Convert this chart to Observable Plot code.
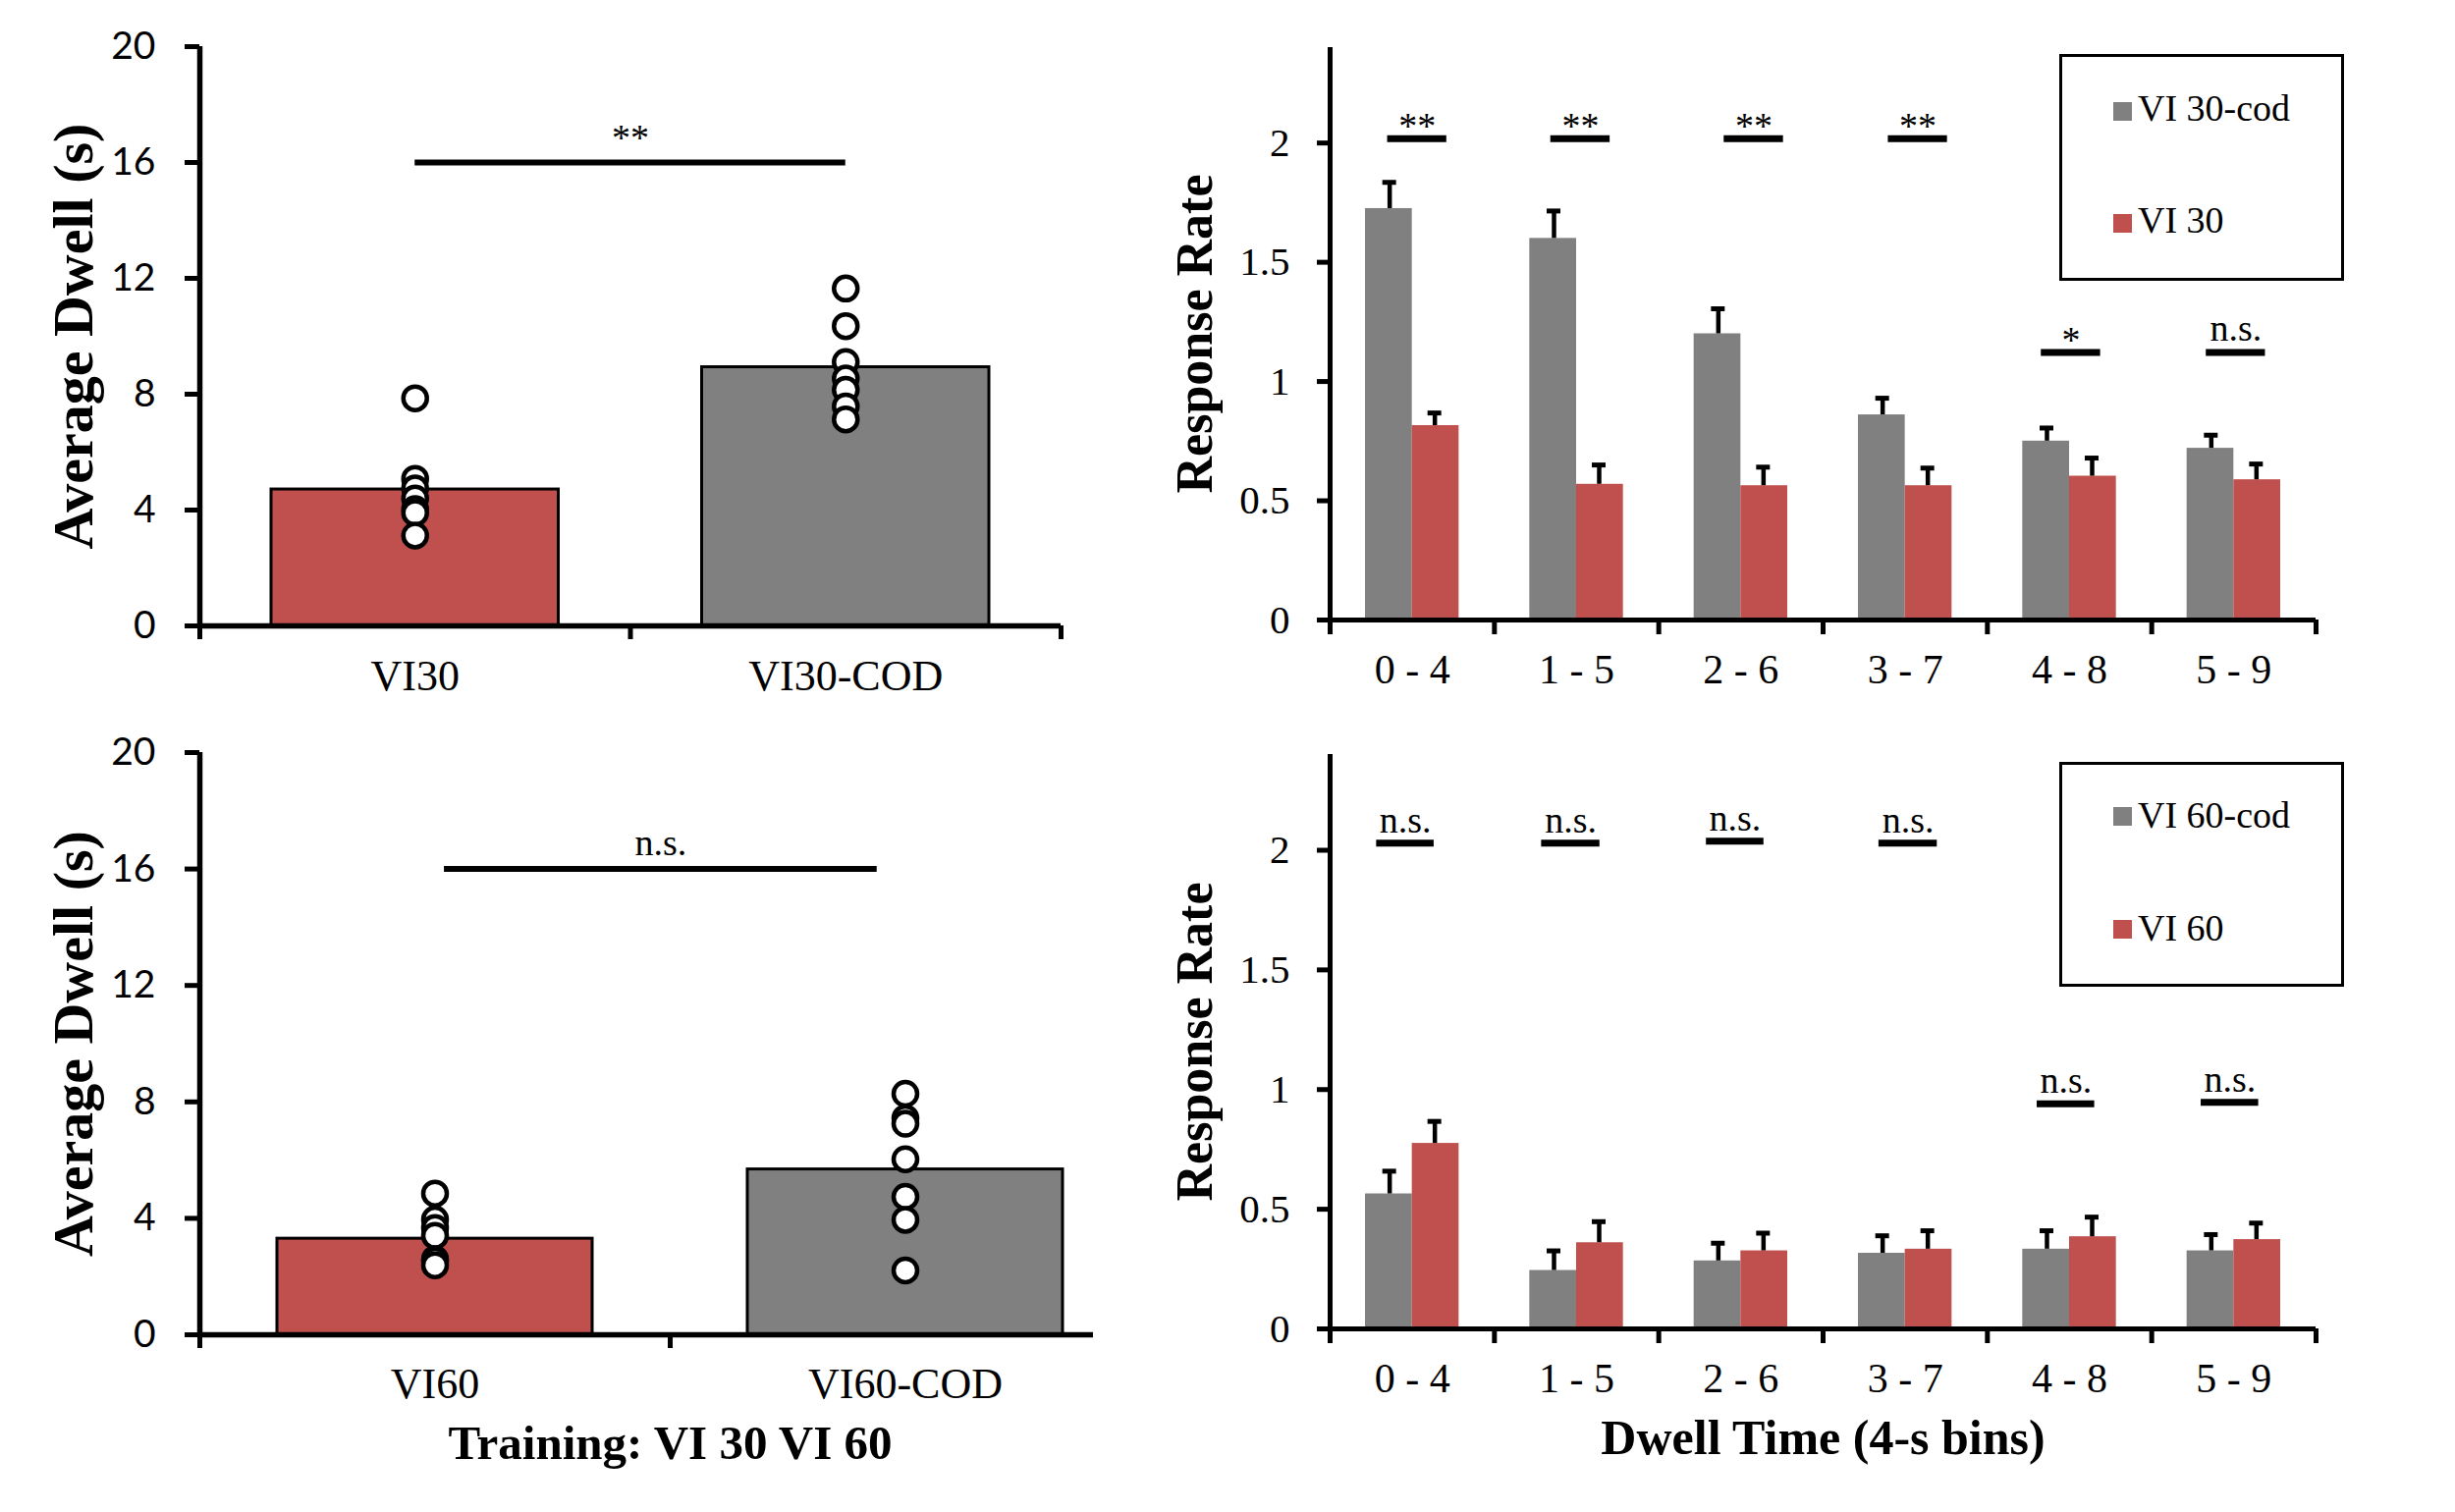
<!DOCTYPE html>
<html><head><meta charset="utf-8">
<script src="https://cdn.jsdelivr.net/npm/d3@7"></script>
<script src="https://cdn.jsdelivr.net/npm/@observablehq/plot@0.6"></script>
<style>
html,body{margin:0;padding:0;background:#fff;}
#root{position:relative;width:2500px;height:1540px;background:#fff;overflow:hidden;}
.panel{position:absolute;}
.panel svg{display:block;}
.legend-box{position:absolute;border:3px solid #000;box-sizing:border-box;background:#fff;}
.sw{position:absolute;width:19px;height:19px;}
.lt{position:absolute;font-family:"Liberation Serif","Times New Roman",serif;font-size:38px;line-height:38px;white-space:nowrap;color:#000;}
</style></head><body><div id="root"></div>
<script>
// ---------------- data ----------------
const RED = "#C0504D", GRAY = "#808080";
const SERIF = '"Liberation Serif", "Times New Roman", serif';
const SANS = 'Lato, "Open Sans", sans-serif';

const dwellTicks = [0, 4, 8, 12, 16, 20];
const rateTicks = [0, 0.5, 1, 1.5, 2];

// top-left
const topCats = ["VI30", "VI30-COD"];
const topMeans = [4.71, 8.93];
const topVI30 = [7.86, 5.08, 4.75, 4.4, 4.03, 3.9, 3.12];
const topVI30COD = [11.65, 10.35, 9.11, 8.54, 8.15, 7.58, 7.13];
const topSig = {label: "**", x1: 0.5, x2: 1.5, y: 16};

// bottom-left
const botCats = ["VI60", "VI60-COD"];
const botMeans = [3.3, 5.68];
const botVI60 = [4.85, 3.96, 3.67, 3.4, 2.6, 2.55, 2.39];
const botVI60COD = [8.28, 7.44, 7.25, 6.03, 4.74, 3.95, 2.21];
const botSig = {label: "n.s.", x1: 0.52, x2: 1.44, y: 16};

// right panels
const bins = ["0 - 4", "1 - 5", "2 - 6", "3 - 7", "4 - 8", "5 - 9"];
const vi30cod = [1.725, 1.60, 1.20, 0.86, 0.75, 0.72];
const vi30codSem = [0.11, 0.115, 0.105, 0.07, 0.055, 0.055];
const vi30 = [0.815, 0.569, 0.563, 0.563, 0.603, 0.588];
const vi30Sem = [0.053, 0.081, 0.078, 0.074, 0.076, 0.066];
const sig30Labels = ["**", "**", "**", "**", "*", "n.s."];
const sig30Y = [2.018, 2.018, 2.018, 2.018, 1.122, 1.122];
const sig30X1 = [0.35, 1.343, 2.398, 3.397, 4.328, 5.332];
const sig30X2 = [0.71, 1.704, 2.759, 3.757, 4.689, 5.692];

const vi60cod = [0.564, 0.244, 0.284, 0.316, 0.333, 0.326];
const vi60codSem = [0.095, 0.082, 0.074, 0.073, 0.077, 0.068];
const vi60 = [0.775, 0.36, 0.326, 0.333, 0.385, 0.373];
const vi60Sem = [0.092, 0.088, 0.074, 0.077, 0.082, 0.069];
const sig60Labels = ["n.s.", "n.s.", "n.s.", "n.s.", "n.s.", "n.s."];
const sig60Y = [2.03, 2.03, 2.038, 2.03, 0.941, 0.947];
const sig60X1 = [0.283, 1.287, 2.29, 3.34, 4.303, 5.301];
const sig60X2 = [0.633, 1.642, 2.64, 3.695, 4.653, 5.651];

const legend30 = [{label: "VI 30-cod", color: GRAY}, {label: "VI 30", color: RED}];
const legend60 = [{label: "VI 60-cod", color: GRAY}, {label: "VI 60", color: RED}];

// ---------------- panels ----------------
function dwellPanel(cfg) {
  const cats = cfg.cats;
  const bars = cats.map((c, i) => ({i, cat: c, mean: cfg.means[i], fill: [RED, GRAY][i]}));
  const dots = cfg.points.flatMap((arr, i) => arr.map(v => ({i, v})));
  const marks = [
    Plot.rect(bars, {x1: d => d.i, x2: d => d.i + 1, y1: 0, y2: "mean", fill: d => d.fill,
      stroke: "black", strokeWidth: 3, insetLeft: cfg.inset, insetRight: cfg.inset}),
    Plot.ruleX([0], {strokeWidth: 5.5}),
    Plot.ruleY([0], {strokeWidth: 5.5}),
    Plot.axisY({ticks: dwellTicks, tickSize: 15, tickPadding: 30, fontSize: 39, fontFamily: SANS,
      strokeWidth: 5, label: null}),
    Plot.axisX({ticks: cfg.boundaries, tickSize: 14, tickFormat: () => "", strokeWidth: 5, label: null}),
    Plot.axisX({ticks: cats.map((c, i) => i + 0.5), tickSize: 0, tickPadding: cfg.labelPad,
      tickFormat: d => cats[Math.floor(d)], fontSize: 44, fontFamily: SERIF, label: null}),
    Plot.ruleY([cfg.sig], {x1: "x1", x2: "x2", y: "y", strokeWidth: 6}),
    Plot.text([cfg.sig], {x: d => (d.x1 + d.x2) / 2, y: "y", text: "label", lineAnchor: "bottom",
      dy: cfg.sigDy, fontSize: 38, fontFamily: SERIF}),
    Plot.dot(dots, {x: d => d.i + 0.5, y: "v", r: 12, fill: "white", stroke: "black", strokeWidth: 4.5}),
    Plot.text([cfg.yLabel], {text: d => d, frameAnchor: "left", textAnchor: "middle", rotate: -90, dx: -128,
      fontSize: 58, fontWeight: "bold", fontFamily: SERIF})
  ];
  if (cfg.xTitle) marks.push(Plot.text([cfg.xTitle], {text: d => d, x: cats.length / 2, y: 0, dy: 126,
    lineAnchor: "bottom", fontSize: 49, fontWeight: "bold", fontFamily: SERIF}));
  return Plot.plot({
    width: 1150, height: cfg.height,
    marginLeft: 203, marginRight: cfg.marginRight, marginTop: cfg.marginTop, marginBottom: cfg.marginBottom,
    style: {fontFamily: SERIF, background: "white", color: "black"},
    x: {domain: [0, cats.length], range: cfg.xRange, axis: null},
    y: {domain: [0, 20], axis: null},
    marks
  });
}

function ratePanel(cfg) {
  const rows = bins.map((b, i) => ({i, b, cod: cfg.cod[i], codSem: cfg.codSem[i], base: cfg.base[i], baseSem: cfg.baseSem[i]}));
  const sig = cfg.sigLabels.map((l, k) => ({label: l, y: cfg.sigY[k], x1: cfg.sigX1[k], x2: cfg.sigX2[k]}));
  const half = (1350 - 204 - 142) / 6 / 2;
  const marks = [
    Plot.rect(rows, {x1: "i", x2: d => d.i + 1, y1: 0, y2: "cod", fill: GRAY, insetLeft: 36, insetRight: half}),
    Plot.rect(rows, {x1: "i", x2: d => d.i + 1, y1: 0, y2: "base", fill: RED, insetLeft: half, insetRight: 36}),
    Plot.ruleX(rows, {x: d => d.i + 0.5, y1: "cod", y2: d => d.cod + d.codSem, dx: -23, strokeWidth: 4.5}),
    Plot.ruleY(rows, {y: d => d.cod + d.codSem, x1: d => d.i + 0.5, x2: d => d.i + 0.5, dx: -23,
      insetLeft: -7, insetRight: -7, strokeWidth: 5}),
    Plot.ruleX(rows, {x: d => d.i + 0.5, y1: "base", y2: d => d.base + d.baseSem, dx: 23, strokeWidth: 4.5}),
    Plot.ruleY(rows, {y: d => d.base + d.baseSem, x1: d => d.i + 0.5, x2: d => d.i + 0.5, dx: 23,
      insetLeft: -7, insetRight: -7, strokeWidth: 5}),
    Plot.ruleX([0], {strokeWidth: 5}),
    Plot.ruleY([0], {strokeWidth: 5}),
    Plot.axisY({ticks: rateTicks, tickSize: 13, tickPadding: 28, fontSize: 41, fontFamily: SERIF,
      strokeWidth: 5, tickFormat: d => String(d), label: null}),
    Plot.axisX({ticks: d3.range(0, 7), tickSize: 15, tickFormat: () => "", strokeWidth: 5, label: null}),
    Plot.axisX({ticks: bins.map((b, i) => i + 0.5), tickSize: 0, tickPadding: 35,
      tickFormat: d => bins[Math.floor(d)], fontSize: 42, fontFamily: SERIF, label: null}),
    Plot.ruleY(sig, {x1: "x1", x2: "x2", y: "y", strokeWidth: 7}),
    Plot.text(sig.filter(d => d.label !== "n.s."), {x: d => (d.x1 + d.x2) / 2, y: "y", text: "label",
      lineAnchor: "bottom", dy: 0, fontSize: 38, fontFamily: SERIF}),
    Plot.text(sig.filter(d => d.label === "n.s."), {x: d => (d.x1 + d.x2) / 2, y: "y", text: "label",
      lineAnchor: "bottom", dy: cfg.nsDy, fontSize: 38, fontFamily: SERIF}),
    Plot.text(["Response Rate"], {text: d => d, frameAnchor: "left", textAnchor: "middle", rotate: -90, dx: -137,
      fontSize: 52, fontWeight: "bold", fontFamily: SERIF})
  ];
  if (cfg.xTitle) marks.push(Plot.text([cfg.xTitle], {text: d => d, x: bins.length / 2, y: 0, dy: 127,
    lineAnchor: "bottom", fontSize: 50, fontWeight: "bold", fontFamily: SERIF}));
  return Plot.plot({
    width: 1350, height: cfg.height,
    marginLeft: 204, marginRight: 142, marginTop: cfg.marginTop, marginBottom: cfg.marginBottom,
    style: {fontFamily: SERIF, background: "white", color: "black"},
    x: {domain: [0, 6], axis: null},
    y: {domain: [0, 2.4], axis: null},
    marks
  });
}

const root = document.getElementById("root");
function place(node, left, top) {
  const div = document.createElement("div");
  div.className = "panel";
  div.style.left = left + "px";
  div.style.top = top + "px";
  div.appendChild(node);
  root.appendChild(div);
}

place(dwellPanel({cats: topCats, means: topMeans, points: [topVI30, topVI30COD], sig: topSig, sigDy: -13,
  yLabel: "Average Dwell (s)", height: 740, marginTop: 47, marginBottom: 103, marginRight: 70,
  xRange: [203, 1080], inset: 73, boundaries: [0, 1, 2], labelPad: 34}), 0, 0);

place(dwellPanel({cats: botCats, means: botMeans, points: [botVI60, botVI60COD], sig: botSig, sigDy: -14,
  yLabel: "Average Dwell (s)", xTitle: "Training: VI 30 VI 60", height: 800, marginTop: 26, marginBottom: 181,
  marginRight: 37, xRange: [203, 1161], inset: 79, boundaries: [0, 1], labelPad: 33}), 0, 740);

place(ratePanel({cod: vi30cod, codSem: vi30codSem, base: vi30, baseSem: vi30Sem,
  sigLabels: sig30Labels, sigY: sig30Y, sigX1: sig30X1, sigX2: sig30X2, nsDy: -12,
  height: 740, marginTop: 48, marginBottom: 109}), 1150, 0);

place(ratePanel({cod: vi60cod, codSem: vi60codSem, base: vi60, baseSem: vi60Sem,
  sigLabels: sig60Labels, sigY: sig60Y, sigX1: sig60X1, sigX2: sig60X2, nsDy: -11,
  xTitle: "Dwell Time (4-s bins)", height: 800, marginTop: 28, marginBottom: 187}), 1150, 740);

// legends
function legend(items, box, squares, baselines) {
  const b = document.createElement("div");
  b.className = "legend-box";
  Object.assign(b.style, {left: box[0] + "px", top: box[1] + "px", width: box[2] + "px", height: box[3] + "px"});
  root.appendChild(b);
  items.forEach((it, k) => {
    const s = document.createElement("div");
    s.className = "sw";
    Object.assign(s.style, {left: "2152px", top: squares[k] + "px", background: it.color});
    root.appendChild(s);
    const t = document.createElement("div");
    t.className = "lt";
    t.textContent = it.label;
    Object.assign(t.style, {left: "2177px", top: (baselines[k] - 32) + "px"});
    root.appendChild(t);
  });
}
legend(legend30, [2097, 55, 290, 231], [104, 218], [123, 237]);
legend(legend60, [2097, 776, 290, 229], [822, 937], [843, 958]);
</script></body></html>
